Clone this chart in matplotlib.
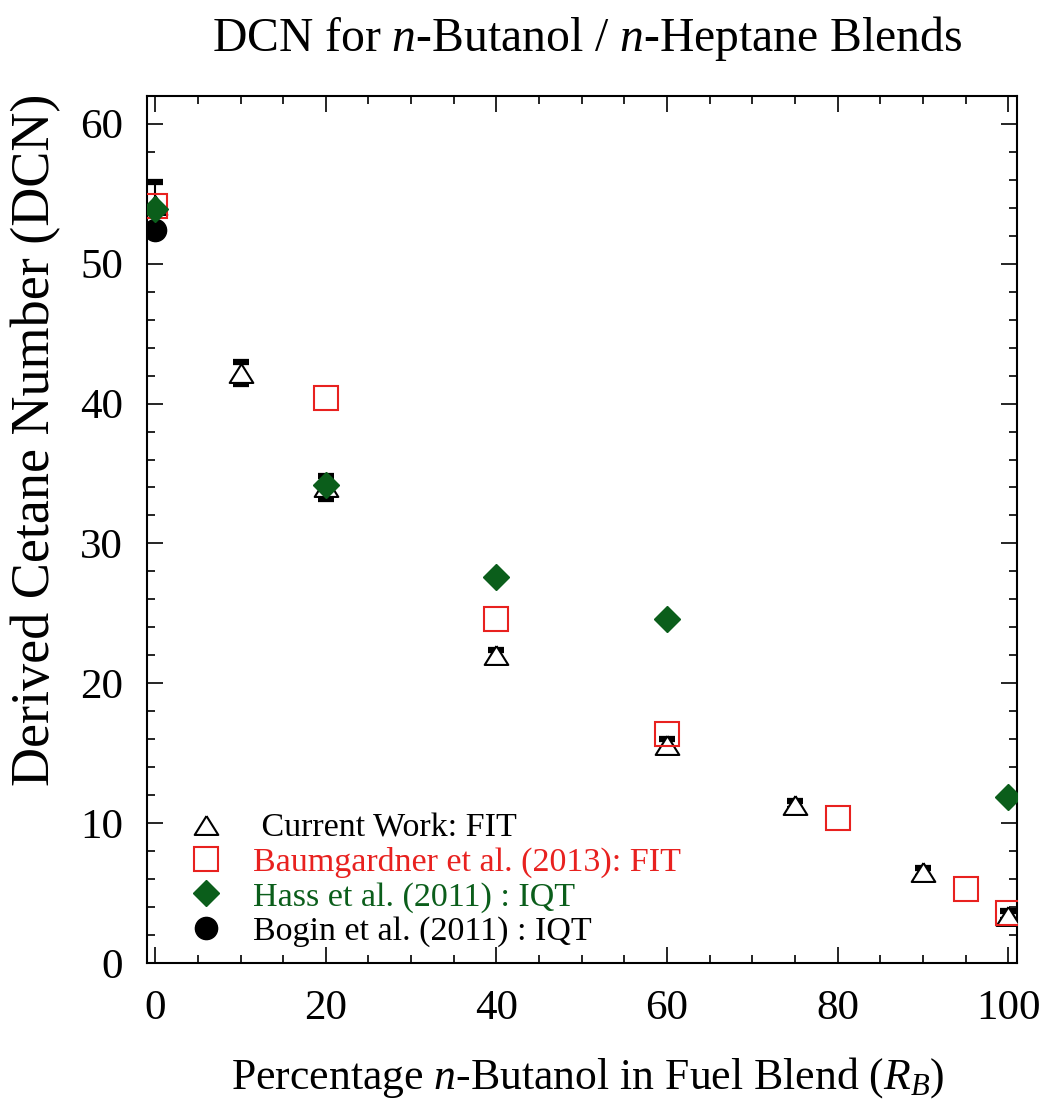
#!/usr/bin/env python3
"""DCN of n-butanol / n-heptane blends: current FIT data vs. literature."""

import matplotlib
matplotlib.use("Agg")
import matplotlib.pyplot as plt
from matplotlib.ticker import MultipleLocator

# Current work (FIT), with measurement uncertainty
fit_rb = [0, 10, 20, 40, 60, 75, 90, 100]
fit_dcn = [54.2, 42.2, 34.0, 22.0, 15.6, 11.3, 6.5, 3.4]
fit_err = [1.6, 0.8, 0.8, 0.4, 0.4, 0.3, 0.3, 0.3]

# Baumgardner et al. (2013), FIT
baum_rb = [0, 20, 40, 60, 80, 95, 100]
baum_dcn = [54.1, 40.4, 24.6, 16.4, 10.4, 5.3, 3.6]

# Hass et al. (2011), IQT
hass_rb = [0, 20, 40, 60, 100]
hass_dcn = [53.9, 34.2, 27.6, 24.6, 11.9]

# Bogin et al. (2011), IQT
bogin_rb = [0]
bogin_dcn = [52.4]

RED = "#e8211f"
GREEN = "#0b5e1b"

plt.rcParams["font.family"] = ["Liberation Serif", "DejaVu Serif"]
plt.rcParams["mathtext.fontset"] = "custom"
plt.rcParams["mathtext.rm"] = "Liberation Serif"
plt.rcParams["mathtext.it"] = "Liberation Serif:italic"

tri = [(0, 0.8), (-1, -0.8), (1, -0.8), (0, 0.8)]

fig = plt.figure(figsize=(10.45, 11.01), dpi=100)
ax = fig.add_axes([0.1404, 0.1251, 0.8325, 0.788])

ax.errorbar(fit_rb, fit_dcn, yerr=fit_err, fmt="none", ecolor="black",
            elinewidth=1.5, capsize=6, capthick=4.5, zorder=2)
ax.plot(fit_rb, fit_dcn, linestyle="none", marker=tri, markersize=17,
        markerfacecolor="white", markeredgecolor="black", markeredgewidth=1.5,
        zorder=3, label=" Current Work: FIT")
ax.plot(baum_rb, baum_dcn, linestyle="none", marker="s", markersize=17,
        markerfacecolor="none", markeredgecolor=RED, markeredgewidth=1.5,
        zorder=4, label="Baumgardner et al. (2013): FIT")
ax.plot(bogin_rb, bogin_dcn, linestyle="none", marker="o", markersize=16,
        color="black", zorder=4.5, label="Bogin et al. (2011) : IQT")
ax.plot(hass_rb, hass_dcn, linestyle="none", marker="D", markersize=13,
        color=GREEN, zorder=5, label="Hass et al. (2011) : IQT")

ax.set_xlim(-1, 101)
ax.set_ylim(0, 62)
ax.xaxis.set_major_locator(MultipleLocator(20))
ax.xaxis.set_minor_locator(MultipleLocator(5))
ax.yaxis.set_major_locator(MultipleLocator(10))
ax.yaxis.set_minor_locator(MultipleLocator(2))
ax.tick_params(which="both", direction="in", top=True, right=True,
               width=1.2, labelsize=31)
ax.tick_params(which="major", length=11.5)
ax.tick_params(which="minor", length=5.8)
ax.tick_params(axis="x", pad=19)
ax.tick_params(axis="y", pad=17)
for sp in ax.spines.values():
    sp.set_linewidth(1.5)

ax.set_xlabel(r"Percentage $\it{n}$-Butanol in Fuel Blend ($\it{R_B}$)",
              fontsize=31.5, labelpad=19, x=0.507)
ax.set_ylabel("Derived Cetane Number (DCN)", fontsize=39)
ax.yaxis.set_label_coords(-0.0985, 0.603)
ax.set_title(r"DCN for $\it{n}$-Butanol / $\it{n}$-Heptane Blends",
             fontsize=34.3, pad=32, x=0.506)

handles, labels = ax.get_legend_handles_labels()
order = [0, 1, 3, 2]
leg = ax.legend([handles[i] for i in order], [labels[i] for i in order],
                loc="lower left", bbox_to_anchor=(0.023, 0.003), frameon=False,
                fontsize=24.5, handlelength=1.5, handletextpad=0.65,
                labelspacing=0.1, borderaxespad=0.0)
for txt, col in zip(leg.get_texts(), ["black", RED, GREEN, "black"]):
    txt.set_color(col)

fig.savefig("out.png", dpi=100)
plt.close(fig)
